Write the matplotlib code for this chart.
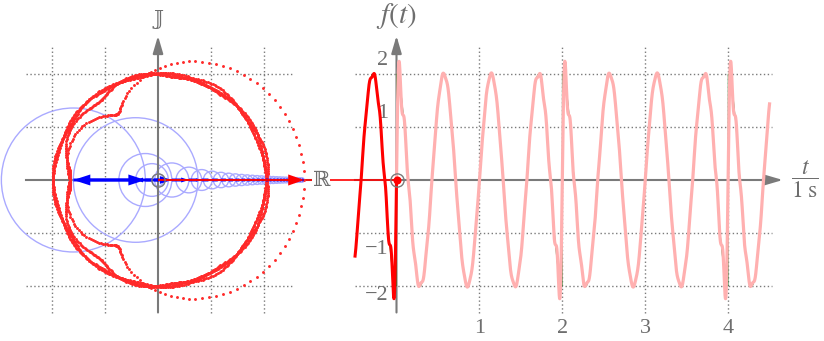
import numpy as np
import matplotlib
matplotlib.use("Agg")
import matplotlib.pyplot as plt
from matplotlib.patches import Circle

plt.rcParams["mathtext.fontset"] = "stix"
plt.rcParams["font.family"] = ["Liberation Serif", "DejaVu Serif"]

# ---------------- data ----------------
AMPLITUDE = 2.0          # f(t) = A cos(2 pi f0 t) on one repetition period
SIGNAL_FREQ = 1.75       # Hz
PERIOD = 2.0             # s
N_HARMONICS = 30
T_NOW = 0.0              # current time of the frame
TRAIL_START = -0.5       # start of the red trail (s)
T_END = 4.5              # end of pink reconstruction (s)
T_TICKS = [1, 2, 3, 4]
T_TICK_LABELS = ["1", "2", "3", "4"]
Y_TICKS = [2, 1, -1, -2]
Y_TICK_LABELS = ["2", "1", "\u22121", "\u22122"]
Y_TICK_LABEL_POS = [2.25, 1.26, -1.32, -2.17]
GRID_VALUES = [-2, -1, 1, 2]
IM_LABEL = "\U0001D541"   # double-struck J
RE_LABEL = "\u211D"       # double-struck R

GRAY = "#7a7a7a"
TXT = "#6e6e6e"
RED = "#ff0000"
DOT_RED = "#ff2a2a"
PINK = "#ffb0b0"
BLUE = "#0000ff"
CIRCLE_BLUE = "#aaaaff"
GREEN = "#2a7a2a"

W, H = 824, 341
PX_UNIT = 53.0                 # pixels per unit (both panels, vertical)
PX_SEC = 82.9                  # pixels per second (right panel)
ORIG1 = (158.0, 180.0)         # pixel of origin, left panel
ORIG2 = (396.5, 180.0)         # pixel of origin, right panel
SPLIT = 340.0

# ---------------- signal / Fourier coefficients ----------------
def signal(t):
    tm = np.mod(t, PERIOD)
    return AMPLITUDE * np.cos(2 * np.pi * SIGNAL_FREQ * tm)

w0 = 2 * np.pi / PERIOD
M = 200000
tq = (np.arange(M) + 0.5) / M * PERIOD
fq = signal(tq)
a0 = 2 * fq.mean()
n = np.arange(1, N_HARMONICS + 1)
C = np.array([2 * np.mean(fq * np.exp(-1j * k * w0 * tq)) for k in n])
coef = 1j * C                 # rotating phasors; Im(sum) = Fourier series


def zsum(t):
    t = np.atleast_1d(t)
    return 1j * a0 / 2 + (coef[None, :] * np.exp(1j * w0 * np.outer(t, n))).sum(axis=1)


# ---------------- figure ----------------
fig = plt.figure(figsize=(W / 100, H / 100), dpi=100)
ax1 = fig.add_axes([0, 0, SPLIT / W, 1])
ax2 = fig.add_axes([SPLIT / W, 0, (W - SPLIT) / W, 1])
ylim = (-(H - ORIG1[1]) / PX_UNIT, ORIG1[1] / PX_UNIT)
ax1.set_xlim(-ORIG1[0] / PX_UNIT, (SPLIT - ORIG1[0]) / PX_UNIT)
ax1.set_ylim(*ylim)
ax2.set_xlim((SPLIT - ORIG2[0]) / PX_SEC, (W - ORIG2[0]) / PX_SEC)
ax2.set_ylim(*ylim)
for ax in (ax1, ax2):
    ax.axis("off")

DOTTED = (0, (1, 1.8))
SYMFONT = ["DejaVu Serif", "DejaVu Sans"]


def axis_arrow(ax, x0, y0, x1, y1):
    ax.annotate("", xy=(x1, y1), xytext=(x0, y0), zorder=3,
                arrowprops=dict(arrowstyle="-|>,head_length=0.75,head_width=0.22",
                                mutation_scale=14, lw=1.5, color=GRAY,
                                shrinkA=0, shrinkB=0))


# ---- left panel: complex plane ----
for g in GRID_VALUES:
    ax1.plot([g, g], [-2.5, 2.52], color=GRAY, lw=1.0, ls=DOTTED, zorder=1)
    ax1.plot([-2.5, 2.55], [g, g], color=GRAY, lw=1.0, ls=DOTTED, zorder=1)
ax1.plot([-2.5, 2.9], [0, 0], color=GRAY, lw=1.5, zorder=2)
axis_arrow(ax1, 0, -2.5, 0, 2.72)
ax1.text(0.0, 3.02, IM_LABEL, ha="center", va="center", fontsize=15, color=TXT, family=SYMFONT)
ax1.text(3.08, 0.0, RE_LABEL, ha="center", va="center", fontsize=15, color=TXT, zorder=20,
         family=SYMFONT, bbox=dict(facecolor="white", edgecolor="none", pad=0.3))

# phasor chain at T_NOW
ph = coef * np.exp(1j * n * w0 * T_NOW)
start = 1j * a0 / 2
chain = start + np.concatenate([[0], np.cumsum(ph)])
for k in range(N_HARMONICS):
    c = chain[k]
    ax1.add_patch(Circle((c.real, c.imag), abs(ph[k]), fill=False,
                         ec=CIRCLE_BLUE, lw=1.0, zorder=2))

# red trace of the tip over one period
tt = np.arange(0, PERIOD, 1 / 720)
zt = zsum(tt)
ax1.plot(zt.real, zt.imag, ls="none", marker="o", ms=2.1, mew=0, color=DOT_RED, zorder=5)

# blue phasor arrows
for k in range(N_HARMONICS):
    p0, p1 = chain[k], chain[k + 1]
    d = p1 - p0
    L = abs(d)
    hl = min(0.32, 0.45 * L)
    ax1.arrow(p0.real, p0.imag, d.real, d.imag, width=0.055, head_width=max(hl * 0.65, 0.06),
              head_length=hl, length_includes_head=True, color=BLUE, lw=0, zorder=6)

tip = chain[-1]
ax1.arrow(start.real, start.imag, tip.real - start.real, tip.imag - start.imag, width=0.036,
          head_width=0.21, head_length=0.3, length_includes_head=True, color=RED, lw=0, zorder=7)
ax1.plot([0], [0], marker="o", ms=9.5, mfc="none", mec=GRAY, mew=1.0, zorder=8)
# projection line towards the time plot
ax1.plot([tip.real, ax1.get_xlim()[1]], [tip.imag, tip.imag], color=RED, lw=1.2, zorder=4)

# ---- right panel: time signal ----
for g in GRID_VALUES:
    ax2.plot([-0.5, 4.53], [g, g], color=GRAY, lw=1.0, ls=DOTTED, zorder=1)
for tk in T_TICKS:
    ax2.plot([tk, tk], [-2.5, 2.52], color=GRAY, lw=1.0, ls=DOTTED, zorder=1)
ax2.plot([-0.5, 4.5], [0, 0], color=GRAY, lw=1.5, zorder=2)
axis_arrow(ax2, 4.4, 0, 4.66, 0)
axis_arrow(ax2, 0, -2.5, 0, 2.72)

for tk, lab in zip(T_TICKS, T_TICK_LABELS):
    ax2.text(tk, -2.81, lab, ha="center", va="center", fontsize=16, color=TXT)
for pos, lab in zip(Y_TICK_LABEL_POS, Y_TICK_LABELS):
    ax2.text(-0.1, pos, lab, ha="right", va="center", fontsize=16, color=TXT)
ax2.text(0, 3.09, r"$f(t)$", ha="center", va="center", fontsize=21, color=TXT)
ax2.text(4.93, 0.02, r"$\dfrac{t}{1\;\mathrm{s}}$", ha="center", va="center", fontsize=17, color=TXT)

tg = np.linspace(TRAIL_START, T_END, 6000)
ax2.plot(tg, signal(tg), color=GREEN, lw=0.6, zorder=3)
tp = np.linspace(T_NOW, T_END, 5000)
ax2.plot(tp, zsum(tp).imag, color=PINK, lw=2.3, zorder=4)
tr = np.linspace(TRAIL_START, T_NOW, 1500)
ax2.plot(tr, zsum(tr).imag, color=RED, lw=2.2, zorder=5)

ax2.plot([ax2.get_xlim()[0], 0], [tip.imag, tip.imag], color=RED, lw=1.2, zorder=4)
ax2.plot([T_NOW], [tip.imag], marker="o", ms=5.8, mew=0, color=RED, zorder=8)
ax2.plot([T_NOW], [tip.imag], marker="o", ms=9.5, mfc="none", mec=GRAY, mew=1.0, zorder=8)

fig.savefig("out.png", dpi=100)
